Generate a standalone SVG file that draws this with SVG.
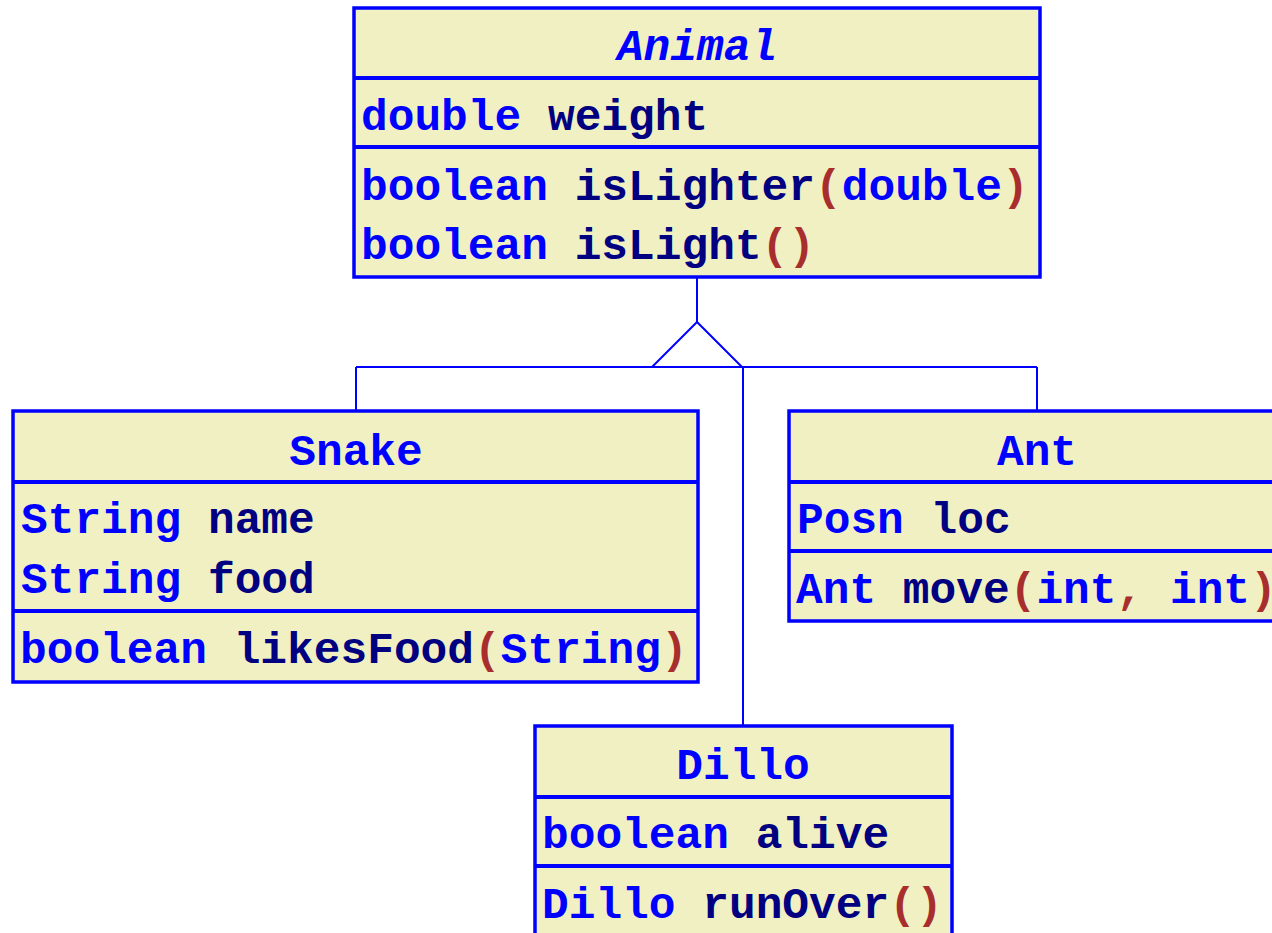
<svg xmlns="http://www.w3.org/2000/svg" width="1272" height="933" viewBox="0 0 1272 933">
<style>
.box{fill:#F1F0C3;stroke:#0000FF;stroke-width:3.5}
.sep{stroke:#0000FF;stroke-width:4}
.conn{stroke:#0000FF;stroke-width:2;fill:none}
text{font-family:"Liberation Mono","Courier New",monospace;font-weight:bold;font-size:44.5px;white-space:pre}
.t{fill:#0000FF}
.n{fill:#000080}
.p{fill:#A82E2E}
.h{fill:#0000FF;text-anchor:middle}
</style>
<rect width="1272" height="933" fill="#FFFFFF"/>
<g id="connectors">
<line class="conn" x1="697" y1="277" x2="697" y2="322"/>
<polygon class="conn" points="697,322 652,367 742,367"/>
<line class="conn" x1="356" y1="367" x2="1037" y2="367"/>
<line class="conn" x1="356" y1="367" x2="356" y2="411"/>
<line class="conn" x1="1037" y1="367" x2="1037" y2="411"/>
<line class="conn" x1="743" y1="367" x2="743" y2="726"/>
</g>
<g id="Animal">
<rect class="box" x="354" y="8" width="686" height="269"/>
<line class="sep" x1="354" y1="78" x2="1040" y2="78"/>
<line class="sep" x1="354" y1="147" x2="1040" y2="147"/>
<text class="h" x="697" y="60" font-style="italic">Animal</text>
<text x="361" y="130"><tspan class="t">double</tspan> <tspan class="n">weight</tspan></text>
<text x="361" y="200"><tspan class="t">boolean</tspan> <tspan class="n">isLighter</tspan><tspan class="p">(</tspan><tspan class="t">double</tspan><tspan class="p">)</tspan></text>
<text x="361" y="259"><tspan class="t">boolean</tspan> <tspan class="n">isLight</tspan><tspan class="p">()</tspan></text>
</g>
<g id="Snake">
<rect class="box" x="13" y="411" width="685" height="271"/>
<line class="sep" x1="13" y1="482" x2="698" y2="482"/>
<line class="sep" x1="13" y1="611" x2="698" y2="611"/>
<text class="h" x="356" y="465">Snake</text>
<text x="21" y="533"><tspan class="t">String</tspan> <tspan class="n">name</tspan></text>
<text x="21" y="593"><tspan class="t">String</tspan> <tspan class="n">food</tspan></text>
<text x="20" y="663"><tspan class="t">boolean</tspan> <tspan class="n">likesFood</tspan><tspan class="p">(</tspan><tspan class="t">String</tspan><tspan class="p">)</tspan></text>
</g>
<g id="Ant">
<rect class="box" x="789" y="411" width="510" height="210"/>
<line class="sep" x1="789" y1="482" x2="1299" y2="482"/>
<line class="sep" x1="789" y1="551" x2="1299" y2="551"/>
<text class="h" x="1037" y="465">Ant</text>
<text x="797" y="533"><tspan class="t">Posn</tspan> <tspan class="n">loc</tspan></text>
<text x="796" y="603"><tspan class="t">Ant</tspan> <tspan class="n">move</tspan><tspan class="p">(</tspan><tspan class="t">int</tspan><tspan class="p">,</tspan> <tspan class="t">int</tspan><tspan class="p">)</tspan></text>
</g>
<g id="Dillo">
<rect class="box" x="535" y="726" width="417" height="230"/>
<line class="sep" x1="535" y1="797" x2="952" y2="797"/>
<line class="sep" x1="535" y1="866" x2="952" y2="866"/>
<text class="h" x="743" y="779">Dillo</text>
<text x="542" y="848"><tspan class="t">boolean</tspan> <tspan class="n">alive</tspan></text>
<text x="542" y="918"><tspan class="t">Dillo</tspan> <tspan class="n">runOver</tspan><tspan class="p">()</tspan></text>
</g>
</svg>
